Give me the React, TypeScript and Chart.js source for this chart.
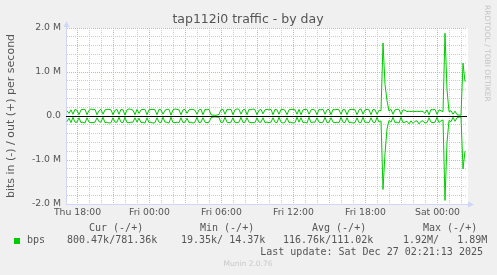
import React, { useEffect, useRef } from "react";
import { Chart, registerables } from "chart.js";

Chart.register(...registerables);

// Time axis in hours relative to Thu 18:00
const T_START = -0.875; // first sample (hours)
const STEP_H = 1 / 6; // 10-minute samples
const X_MIN = -0.9583;
const X_MAX = 32.4583;
const X_TICK_HOURS = [0, 6, 12, 18, 24, 30];
const X_TICK_LABELS = ["Thu 18:00", "Fri 00:00", "Fri 06:00", "Fri 12:00", "Fri 18:00", "Sat 00:00"];
const Y_TICK_VALUES = [2, 1, 0, -1, -2];
const Y_TICK_LABELS = ["2.0 M", "1.0 M", "0.0", "-1.0 M", "-2.0 M"];

// out (+) traffic, kbit/s
const OUT_KBPS = [
  120, 60, 140, 40, 150, 130, 30, 140, 150, 150,
  30, 130, 160, 140, 150, 30, 120, 150, 40, 140,
  150, 150, 140, 30, 130, 150, 40, 150, 140, 20,
  140, 160, 150, 130, 30, 150, 60, 140, 150, 150,
  30, 140, 150, 150, 140, 30, 150, 140, 40, 130,
  150, 150, 20, 140, 160, 150, 140, 30, 140, 150,
  60, 140, 150, 150, 130, 40, 140, 150, 30, 150,
  140, 150, 30, 20, 15, 20, 40, 140, 150, 40,
  150, 140, 150, 30, 140, 160, 150, 40, 140, 150,
  30, 150, 140, 160, 140, 30, 130, 150, 50, 140,
  150, 140, 150, 30, 150, 140, 40, 150, 150, 130,
  30, 140, 150, 150, 140, 40, 150, 30, 140, 150,
  150, 40, 140, 150, 130, 30, 150, 140, 150, 40,
  140, 150, 30, 150, 140, 150, 140, 40, 150, 140,
  30, 140, 150, 150, 140, 30, 140, 160, 40, 140,
  150, 140, 30, 150, 140, 40, 130, 120, 1660, 720,
  350, 110, 150, 40, 140, 150, 150, 40, 140, 130,
  100, 110, 100, 110, 100, 110, 100, 110, 100, 60,
  140, 30, 150, 140, 150, 40, 140, 120, 100, 1880,
  600, 100, 120, 40, 110, 30, 20, 20, 1200, 781,
];

// in (-) traffic, kbit/s (drawn below zero)
const IN_KBPS = [
  130, 50, 150, 30, 140, 140, 40, 150, 140, 160,
  40, 140, 150, 150, 140, 40, 130, 140, 30, 150,
  140, 160, 150, 40, 140, 140, 30, 140, 150, 30,
  150, 150, 140, 140, 40, 140, 50, 150, 140, 160,
  40, 150, 140, 160, 150, 40, 140, 150, 30, 140,
  140, 160, 30, 150, 150, 140, 150, 40, 150, 140,
  50, 150, 140, 160, 140, 30, 150, 140, 40, 140,
  150, 140, 40, 25, 20, 25, 30, 150, 140, 30,
  140, 150, 140, 40, 150, 150, 140, 30, 150, 140,
  40, 140, 150, 150, 150, 40, 140, 140, 40, 150,
  140, 150, 140, 40, 140, 150, 30, 140, 160, 140,
  40, 150, 140, 160, 150, 30, 140, 40, 150, 140,
  160, 30, 150, 140, 140, 40, 140, 150, 140, 30,
  150, 140, 40, 140, 150, 140, 150, 30, 140, 150,
  40, 150, 140, 160, 150, 40, 150, 150, 30, 150,
  140, 150, 40, 140, 150, 30, 140, 110, 1670, 850,
  300, 100, 140, 30, 150, 140, 160, 30, 150, 140,
  120, 180, 110, 170, 120, 110, 180, 120, 110, 160,
  150, 40, 140, 150, 140, 30, 150, 110, 90, 1920,
  600, 100, 130, 30, 120, 40, 25, 20, 1200, 800,
];

const LEGEND_HEADERS = ["Cur (-/+)", "Min (-/+)", "Avg (-/+)", "Max (-/+)"];
const LEGEND_HEADER_X = [89, 200, 312, 423];
const LEGEND_VALUES = ["800.47k/781.36k", "19.35k/ 14.37k", "116.76k/111.02k", "1.92M/   1.89M"];
const LEGEND_VALUE_X = [67, 181, 283, 403];

const GREEN = "#00cc00";
const AXIS_BLUE = "#cfd6f8";
const MINOR = "#cdcdcd";
const MAJOR = "#e6aaaa";
const FONT_COLOR = "#555555";

const muninPlugin = {
  id: "muninDecor",
  beforeDraw(chart: any) {
    const { ctx, chartArea } = chart;
    ctx.save();
    ctx.fillStyle = "#f0f0f0";
    ctx.fillRect(0, 0, chart.width, chart.height);
    ctx.fillStyle = "#ffffff";
    ctx.fillRect(chartArea.left, chartArea.top, chartArea.right - chartArea.left + 1, chartArea.bottom - chartArea.top);
    ctx.restore();
  },
  afterDatasetsDraw(chart: any) {
    const { ctx, chartArea, scales } = chart;
    const y0 = Math.round(scales.y.getPixelForValue(0));
    ctx.save();
    ctx.fillStyle = "#000000";
    ctx.fillRect(chartArea.left, y0, chartArea.right - chartArea.left, 1);
    ctx.restore();
  },
  afterDraw(chart: any) {
    const { ctx, chartArea } = chart;
    ctx.save();
    ctx.fillStyle = AXIS_BLUE;
    ctx.strokeStyle = AXIS_BLUE;
    // y axis arrow
    const ax = chartArea.left + 0.5;
    ctx.beginPath();
    ctx.moveTo(ax, chartArea.top - 7);
    ctx.lineTo(ax - 3, chartArea.top - 1);
    ctx.lineTo(ax + 3, chartArea.top - 1);
    ctx.closePath();
    ctx.fill();
    ctx.beginPath();
    ctx.moveTo(ax, chartArea.top - 2);
    ctx.lineTo(ax, chartArea.top);
    ctx.stroke();
    // x axis arrow
    const ay = chartArea.bottom + 0.5;
    ctx.beginPath();
    ctx.moveTo(chartArea.right + 7, ay);
    ctx.lineTo(chartArea.right + 1, ay - 3);
    ctx.lineTo(chartArea.right + 1, ay + 3);
    ctx.closePath();
    ctx.fill();
    ctx.beginPath();
    ctx.moveTo(chartArea.right, ay);
    ctx.lineTo(chartArea.right + 2, ay);
    ctx.stroke();
    ctx.restore();
  },
};

export default function App() {
  const canvasRef = useRef<HTMLCanvasElement>(null);

  useEffect(() => {
    document.body.style.margin = "0";
    const canvas = canvasRef.current;
    if (!canvas) return;
    const outPts = OUT_KBPS.map((v, i) => ({ x: T_START + i * STEP_H, y: v / 1000 }));
    const inPts = IN_KBPS.map((v, i) => ({ x: T_START + i * STEP_H, y: -v / 1000 }));
    const isWhole = (v: number) => Math.abs(v - Math.round(v)) < 1e-6;

    const chart = new Chart(canvas, {
      type: "line",
      data: {
        datasets: [
          { label: "bps out", data: outPts, borderColor: GREEN, borderWidth: 1, pointRadius: 0, tension: 0, fill: false },
          { label: "bps in", data: inPts, borderColor: GREEN, borderWidth: 1, pointRadius: 0, tension: 0, fill: false },
        ],
      },
      options: {
        animation: false,
        responsive: false,
        devicePixelRatio: 1,
        layout: { padding: { top: 28, right: 30, left: 0, bottom: 0 } },
        plugins: { legend: { display: false }, tooltip: { enabled: false }, title: { display: false } },
        events: [],
        scales: {
          x: {
            type: "linear",
            min: X_MIN,
            max: X_MAX,
            afterFit: (s: any) => { s.height = 71; },
            ticks: {
              stepSize: 1,
              includeBounds: false,
              autoSkip: false,
              maxRotation: 0,
              padding: 3,
              color: FONT_COLOR,
              font: { family: "DejaVu Sans", size: 9.3 },
              callback: (v: any) => {
                const idx = X_TICK_HOURS.indexOf(Math.round(Number(v)));
                return idx >= 0 && isWhole(Number(v)) ? X_TICK_LABELS[idx] : "";
              },
            },
            grid: {
              drawTicks: false,
              lineWidth: 1,
              color: (c: any) => (Math.round(c.tick.value) % 3 === 0 ? MAJOR : MINOR),
            },
            border: { display: true, color: AXIS_BLUE, width: 1, dash: [1, 1] },
          },
          y: {
            type: "linear",
            min: -2,
            max: 2,
            afterFit: (s: any) => { s.width = 66; },
            ticks: {
              stepSize: 0.2,
              includeBounds: false,
              autoSkip: false,
              padding: 5,
              color: FONT_COLOR,
              font: { family: "DejaVu Sans", size: 9.3 },
              callback: (v: any) => {
                const n = Number(v);
                if (!isWhole(n)) return "";
                const idx = Y_TICK_VALUES.indexOf(Math.round(n));
                return idx >= 0 ? Y_TICK_LABELS[idx] : "";
              },
            },
            grid: {
              drawTicks: false,
              lineWidth: 1,
              color: (c: any) => {
                const v = c.tick.value;
                if (Math.abs(v) < 1e-6) return "rgba(0,0,0,0)";
                return isWhole(v) ? MAJOR : MINOR;
              },
            },
            border: { display: true, color: AXIS_BLUE, width: 1, dash: [1, 1] },
            title: {
              display: true,
              text: "bits in (-) / out (+) per second",
              color: FONT_COLOR,
              font: { family: "DejaVu Sans", size: 11 },
              padding: { top: 5, bottom: 0 },
            },
          },
        },
      },
      plugins: [muninPlugin],
    } as any);

    return () => chart.destroy();
  }, []);

  const mono: React.CSSProperties = {
    position: "absolute",
    fontFamily: "'DejaVu Sans Mono', monospace",
    fontSize: 10,
    lineHeight: "12px",
    color: FONT_COLOR,
    whiteSpace: "pre",
  };

  return (
    <div style={{ position: "absolute", left: 0, top: 0, width: 497, height: 275, background: "#f0f0f0", overflow: "hidden" }}>
      <canvas ref={canvasRef} width={497} height={275} style={{ position: "absolute", left: 0, top: 0, width: 497, height: 275 }} />
      <div style={{ position: "absolute", left: 0, top: 11, width: 496, textAlign: "center", fontFamily: "'DejaVu Sans', sans-serif", fontSize: 12.5, lineHeight: "15px", color: FONT_COLOR, whiteSpace: "pre" }}>
        tap112i0 traffic - by day
      </div>
      <div style={{ position: "absolute", left: 482, top: 5, writingMode: "vertical-rl", fontFamily: "'DejaVu Sans', sans-serif", fontSize: 7.5, lineHeight: "10px", color: "#c4c4c4", whiteSpace: "pre" }}>
        RRDTOOL / TOBI OETIKER
      </div>
      {LEGEND_HEADERS.map((h, i) => (
        <div key={h} style={{ ...mono, left: LEGEND_HEADER_X[i], top: 222 }}>{h}</div>
      ))}
      <div style={{ position: "absolute", left: 14, top: 238, width: 6, height: 6, background: GREEN }} />
      <div style={{ ...mono, left: 27, top: 234 }}>bps</div>
      {LEGEND_VALUES.map((v, i) => (
        <div key={v} style={{ ...mono, left: LEGEND_VALUE_X[i], top: 234 }}>{v}</div>
      ))}
      <div style={{ ...mono, right: 14, top: 246 }}>Last update: Sat Dec 27 02:21:13 2025</div>
      <div style={{ position: "absolute", left: 0, top: 259, width: 496, textAlign: "center", fontFamily: "'DejaVu Sans', sans-serif", fontSize: 7.5, lineHeight: "10px", color: "#c8c8c8", whiteSpace: "pre" }}>
        Munin 2.0.76
      </div>
    </div>
  );
}
